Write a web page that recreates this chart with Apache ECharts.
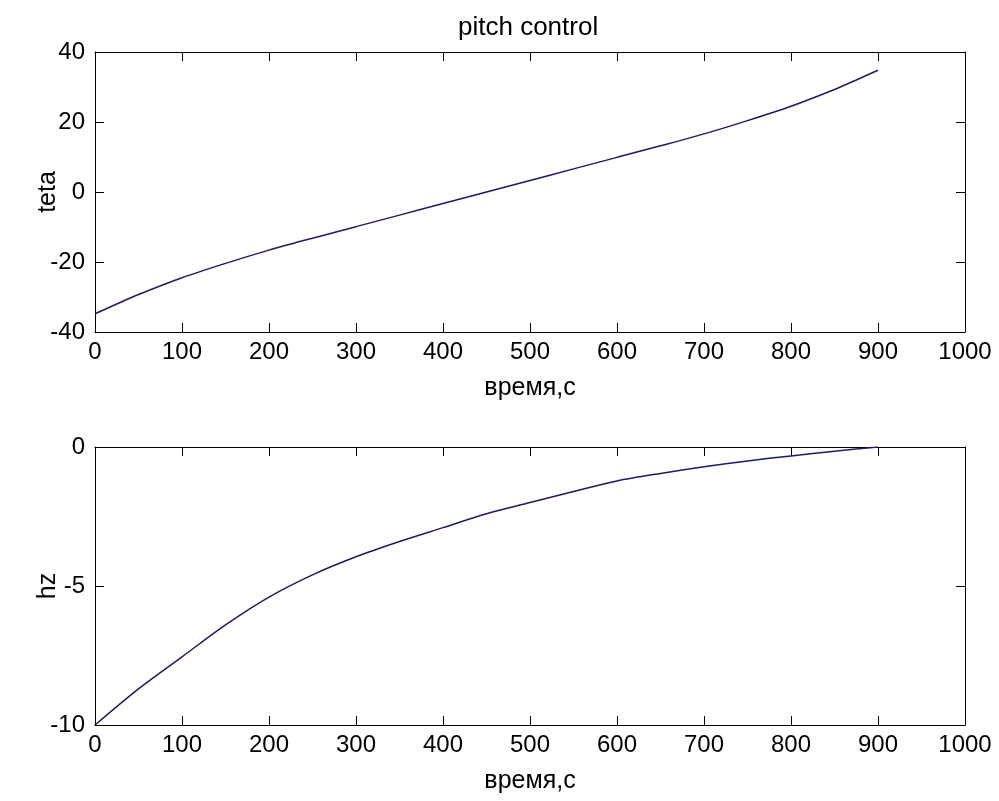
<!DOCTYPE html>
<html>
<head>
<meta charset="utf-8">
<title>pitch control</title>
<script src="https://cdn.jsdelivr.net/npm/echarts@6/dist/echarts.min.js"></script>
<style>
  html, body { margin: 0; padding: 0; background: #fff; }
  #main { width: 999px; height: 801px; }
</style>
</head>
<body>
<div id="main"></div>
<script>
// time samples, seconds
const timeTeta = [0, 25, 50, 100, 150, 200, 250, 300, 350, 400, 450, 500, 550, 600, 650, 700, 750, 800, 850, 875, 900];
// pitch angle (teta)
const tetaValues = [-34.8, -32.0, -29.3, -24.5, -20.4, -16.6, -13.2, -9.9, -6.6, -3.3, 0, 3.3, 6.6, 9.9, 13.2, 16.6, 20.4, 24.5, 29.3, 32.0, 34.8];

const timeHz = [0, 50, 100, 150, 200, 250, 300, 350, 400, 450, 500, 550, 600, 650, 700, 750, 800, 850, 900];
// hz
const hzValues = [-10, -8.7, -7.55, -6.4, -5.4, -4.6, -3.95, -3.4, -2.9, -2.4, -2.0, -1.6, -1.22, -0.95, -0.71, -0.5, -0.32, -0.15, 0];

// axis ranges and tick values
const timeRange = [0, 1000];
const tetaRange = [-40, 40];
const hzRange = [-10, 0];
const timeTicks = [0, 100, 200, 300, 400, 500, 600, 700, 800, 900, 1000];
const tetaTicks = [-40, -20, 0, 20, 40];
const hzTicks = [-10, -5, 0];

const toPairs = (xs, ys) => xs.map((x, i) => [x, ys[i]]);

const font = "'Liberation Sans', Arial, sans-serif";
const lineColor = '#1c1c66';
const tickLen = 9;

// one side of the box; labelled only on left/bottom, ticks come from tickSeries
function axis(gridIndex, position, range, interval, name) {
  const labelled = position === 'left' || position === 'bottom';
  const vertical = position === 'left' || position === 'right';
  const ax = {
    type: 'value',
    gridIndex,
    position,
    min: range[0], max: range[1], interval,
    splitLine: { show: false },
    axisLine: { show: true, onZero: false, lineStyle: { color: '#000', width: 1 } },
    axisTick: { show: false },
    axisLabel: labelled
      ? { show: true, fontFamily: font, fontSize: 24, color: '#000', margin: vertical ? 10 : 8, formatter: v => String(v) }
      : { show: false }
  };
  if (name) {
    ax.name = name;
    ax.nameLocation = 'middle';
    ax.nameGap = vertical ? 34 : 44;
    ax.nameMoveOverlap = false;
    ax.nameTextStyle = { fontFamily: font, fontSize: 25, color: '#000' };
  }
  return ax;
}

const crisp = v => Math.round(v) + 0.5;
const tickLine = (x1, y1, x2, y2) => ({
  type: 'line',
  shape: { x1, y1, x2, y2 },
  style: { stroke: '#000', lineWidth: 1 }
});

// inward ticks on both opposite sides of a panel, placed through the axis scales
function tickSeries(axisIndex, dim, ticks, otherRange) {
  return {
    type: 'custom',
    xAxisIndex: axisIndex, yAxisIndex: axisIndex,
    silent: true, clip: false, z: 5,
    data: ticks.map(v => dim === 'x' ? [v, otherRange[0]] : [otherRange[0], v]),
    renderItem(params, api) {
      const v = dim === 'x' ? api.value(0) : api.value(1);
      if (dim === 'x') {
        const lo = api.coord([v, otherRange[0]]);
        const hi = api.coord([v, otherRange[1]]);
        const x = crisp(lo[0]);
        return { type: 'group', children: [
          tickLine(x, lo[1], x, lo[1] - tickLen),
          tickLine(x, hi[1], x, hi[1] + tickLen)
        ] };
      }
      const lo = api.coord([otherRange[0], v]);
      const hi = api.coord([otherRange[1], v]);
      const y = crisp(lo[1]);
      return { type: 'group', children: [
        tickLine(lo[0], y, lo[0] + tickLen, y),
        tickLine(hi[0], y, hi[0] - tickLen, y)
      ] };
    }
  };
}

const myChart = echarts.init(document.getElementById('main'));
myChart.setOption({
  backgroundColor: '#fff',
  animation: false,
  title: {
    text: 'pitch control',
    left: 453, top: 10,
    textStyle: { fontFamily: font, fontSize: 26, fontWeight: 'normal', color: '#000' }
  },
  grid: [
    { left: 95, top: 52, right: 34, height: 280 },
    { left: 95, top: 447, right: 34, height: 278 }
  ],
  xAxis: [
    axis(0, 'bottom', timeRange, 100, 'время,с'),
    axis(0, 'top', timeRange, 100),
    axis(1, 'bottom', timeRange, 100, 'время,с'),
    axis(1, 'top', timeRange, 100)
  ],
  yAxis: [
    axis(0, 'left', tetaRange, 20, 'teta'),
    axis(0, 'right', tetaRange, 20),
    axis(1, 'left', hzRange, 5, 'hz'),
    axis(1, 'right', hzRange, 5)
  ],
  series: [
    {
      type: 'line', xAxisIndex: 0, yAxisIndex: 0,
      data: toPairs(timeTeta, tetaValues),
      smooth: 0.3, showSymbol: false,
      lineStyle: { color: lineColor, width: 1.5 }
    },
    {
      type: 'line', xAxisIndex: 2, yAxisIndex: 2,
      data: toPairs(timeHz, hzValues),
      smooth: 0.3, showSymbol: false,
      lineStyle: { color: lineColor, width: 1.5 }
    },
    tickSeries(0, 'x', timeTicks, tetaRange),
    tickSeries(0, 'y', tetaTicks, timeRange),
    tickSeries(2, 'x', timeTicks, hzRange),
    tickSeries(2, 'y', hzTicks, timeRange)
  ]
});
</script>
</body>
</html>
